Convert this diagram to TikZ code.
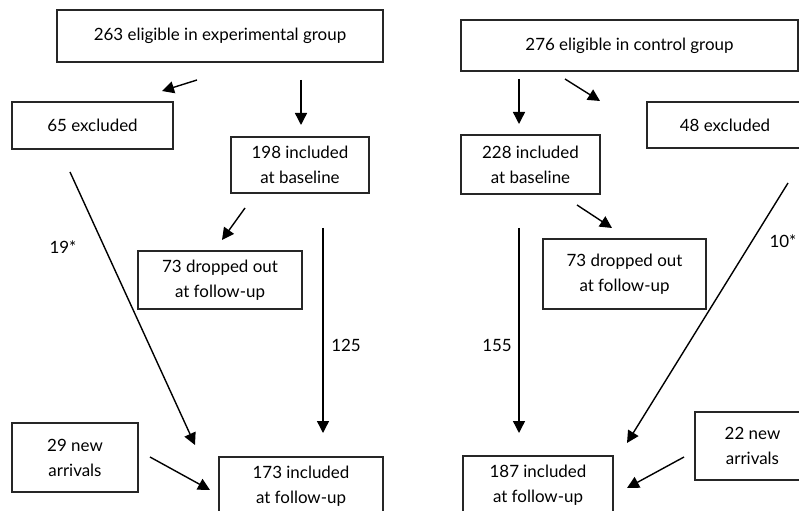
\documentclass[tikz,border=0pt]{standalone}
\usepackage{fontspec}
\setmainfont{Lato}
\usetikzlibrary{arrows.meta}
\begin{document}
\begin{tikzpicture}[x=1bp,y=-1bp,
  box/.style={draw=black!85,line width=1.8bp,align=center,inner sep=0pt,font=\fontsize{17}{25}\selectfont},
  arr/.style={line width=1.4bp,-{Triangle[length=12bp,width=12bp]}},
  lbl/.style={font=\fontsize{17}{20}\selectfont,inner sep=0pt}]
\useasboundingbox (0,0) rectangle (799,511);
\clip (0,0) rectangle (799,511);
% left group
\node[box,minimum width=326bp,minimum height=52bp] (e0) at (220,36) {263 eligible in experimental group};
\node[box,minimum width=161bp,minimum height=47bp] (ex1) at (92.5,125.5) {65 excluded};
\node[box,minimum width=138bp,minimum height=56bp] (b1) at (300,165) {198 included\\at baseline};
\node[box,minimum width=164bp,minimum height=58bp] (d1) at (220,280) {73 dropped out\\at follow-up};
\node[box,minimum width=126bp,minimum height=69bp] (n1) at (75,457.5) {29 new\\arrivals};
\node[box,minimum width=164bp,minimum height=58bp] (f1) at (301,486) {173 included\\at follow-up};
% right group
\node[box,minimum width=337bp,minimum height=51bp] (c0) at (629.5,45.5) {276 eligible in control group};
\node[box,minimum width=156bp,minimum height=46bp] (ex2) at (725,125) {48 excluded};
\node[box,minimum width=139bp,minimum height=59bp] (b2) at (530.5,164.5) {228 included\\at baseline};
\node[box,minimum width=163bp,minimum height=70bp] (d2) at (624.5,274) {73 dropped out\\at follow-up};
\node[box,minimum width=115bp,minimum height=68bp] (n2) at (752.5,446) {22 new\\arrivals};
\node[box,minimum width=150bp,minimum height=58bp] (f2) at (538,485) {187 included\\at follow-up};
% connector end points
\coordinate (p1s) at (197,80);  \coordinate (p1e) at (162,91);
\coordinate (p2s) at (301,80);  \coordinate (p2e) at (301,125);
\coordinate (p3s) at (245,208); \coordinate (p3e) at (222,240);
\coordinate (p4s) at (323,228); \coordinate (p4e) at (323,433);
\coordinate (p5s) at (70,172);  \coordinate (p5e) at (195,445);
\coordinate (p6s) at (150,457); \coordinate (p6e) at (210,490);
\coordinate (q1s) at (519,79);  \coordinate (q1e) at (519,124);
\coordinate (q2s) at (565,79);  \coordinate (q2e) at (600,101);
\coordinate (q3s) at (577,205); \coordinate (q3e) at (612,228);
\coordinate (q4s) at (519,228); \coordinate (q4e) at (519,433);
\coordinate (q5s) at (788,183); \coordinate (q5e) at (627,443);
\coordinate (q6s) at (684,457); \coordinate (q6e) at (627,488);
\draw[arr] (p1s) -- (p1e);
\draw[arr] (p2s) -- (p2e);
\draw[arr] (p3s) -- (p3e);
\draw[arr] (p4s) -- (p4e);
\draw[arr] (p5s) -- (p5e);
\draw[arr] (p6s) -- (p6e);
\draw[arr] (q1s) -- (q1e);
\draw[arr] (q2s) -- (q2e);
\draw[arr] (q3s) -- (q3e);
\draw[arr] (q4s) -- (q4e);
\draw[arr] (q5s) -- (q5e);
\draw[arr] (q6s) -- (q6e);
% labels
\node[lbl] (l19) at (63,247) {19*};
\node[lbl] (l125) at (346,345) {125};
\node[lbl] (l155) at (497,345) {155};
\node[lbl] (l10) at (783,241) {10*};
\end{tikzpicture}
\end{document}
